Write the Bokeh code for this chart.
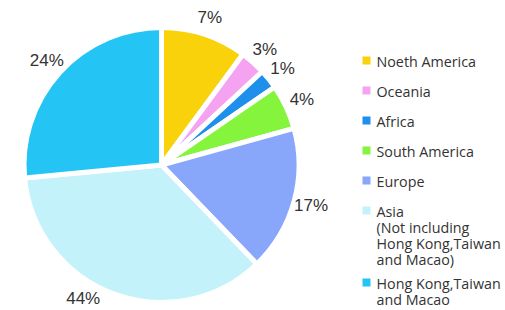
import math
from bokeh.plotting import figure
from bokeh.models import Range1d, ColumnDataSource
from bokeh.core.properties import value
from bokeh.embed import file_html
from bokeh.resources import INLINE

# ---- data ----
categories = ["Noeth America", "Oceania", "Africa", "South America", "Europe",
              "Asia\n(Not including\nHong Kong,Taiwan\nand Macao)",
              "Hong Kong,Taiwan\nand Macao"]
# slice sizes as drawn in the picture (share of the circle, %)
shares = [10.1, 3.0, 2.3, 5.3, 17.1, 35.7, 26.5]
# percentage labels printed on the chart
pct_labels = ["7%", "3%", "1%", "4%", "17%", "44%", "24%"]
colors = ["#FAD20C", "#F5A3F0", "#1E90EB", "#84F53C", "#88A6FA", "#C4F2FA", "#24C4F5"]

W, H = 505, 310
p = figure(width=W, height=H, output_backend="svg", toolbar_location=None,
           x_range=Range1d(0, W), y_range=Range1d(0, H), min_border=0)
p.axis.visible = False
p.grid.visible = False
p.outline_line_color = None
p.background_fill_color = "white"
p.border_fill_color = "white"

cx, cy = 161, H - 164.5
R = 137.5
total = sum(shares)

starts, ends, lx, ly = [], [], [], []
label_nudge = {5: 10.0}  # degrees, to keep the bottom label inside the frame
cum = 0.0
for i, s in enumerate(shares):
    a0 = cum / total * 360.0
    cum += s
    a1 = cum / total * 360.0
    starts.append(math.radians(90 - a1))
    ends.append(math.radians(90 - a0))
    mid = (a0 + a1) / 2 + label_nudge.get(i, 0.0)
    rl = 155
    lx.append(cx + rl * math.sin(math.radians(mid)))
    ly.append(cy + rl * math.cos(math.radians(mid)))

src = ColumnDataSource(dict(start=starts, end=ends, color=colors))
p.wedge(x=cx, y=cy, radius=R, start_angle="start", end_angle="end",
        fill_color="color", line_color="white", line_width=5, source=src)

p.text(x=lx, y=ly, text=pct_labels, text_align="center", text_baseline="middle",
       text_font=value("Liberation Sans"), text_font_size="17px", text_color="#333333")

# ---- legend ----
sq_x, tx = 366, 376
y = 61.0
line_h = 16.0
for cat, col in zip(categories, colors):
    lines = cat.split("\n")
    p.rect(x=sq_x, y=H - y + 1, width=8, height=8, fill_color=col, line_color=None)
    for j, ln in enumerate(lines):
        p.text(x=tx, y=H - (y + j * line_h), text=[ln], text_align="left",
               text_baseline="middle", text_font=value("Open Sans"),
               text_font_size="14.3px", text_color="#333333")
    y += 30 + (len(lines) - 1) * 14.0

open("out.html", "w").write(file_html(p, INLINE))
